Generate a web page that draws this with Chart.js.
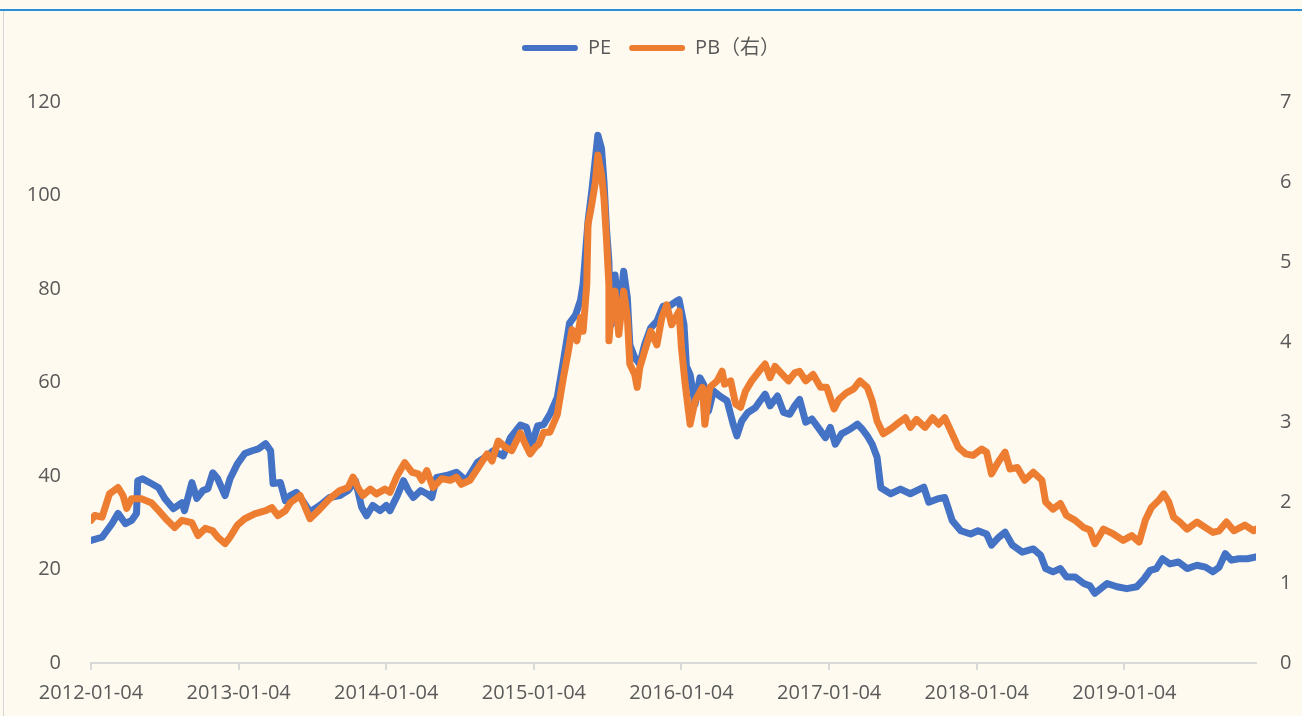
<!DOCTYPE html>
<html>
<head>
<meta charset="utf-8">
<script src="https://cdn.jsdelivr.net/npm/chart.js@4.4.1/dist/chart.umd.min.js"></script>
<style>
  html, body { margin: 0; padding: 0; background: #fffaf0; }
  #wrap { position: absolute; left: 0; top: 0; width: 1302px; height: 716px; }
  #topLine { position: absolute; left: 0; top: 9px; width: 1302px; height: 2px; background: #2a8fd6; }
  #leftLine { position: absolute; left: 3px; top: 11px; width: 1px; height: 705px; background: #d6d6d6; }
</style>
</head>
<body>
<div id="wrap"><canvas id="myChart"></canvas></div>
<div id="topLine"></div>
<div id="leftLine"></div>
<script>
// x positions: months since 2012-01-04
var peMonths = [0, 0.9, 1.7, 2.2, 2.8, 3.3, 3.7, 3.8, 4.2, 4.9, 5.5, 6.0, 6.7, 7.4, 7.6, 8.2, 8.6, 9.1, 9.5, 9.9,
  10.3, 10.9, 11.3, 11.9, 12.5, 13.1, 13.6, 14.2, 14.6, 14.8, 15.4, 15.8, 16.2, 16.7, 17.2, 17.8, 18.6, 19.4, 20.2, 20.9,
  21.5, 22.0, 22.4, 22.9, 23.5, 24.0, 24.3, 24.9, 25.4, 25.8, 26.2, 26.8, 27.3, 27.7, 28.1, 28.9, 29.7, 30.5, 31.4, 32.2,
  32.7, 33.5, 34.1, 34.9, 35.4, 35.8, 36.3, 36.8, 37.3, 37.9, 38.4, 38.9, 39.4, 39.8, 40.0, 40.4, 40.7, 41.0, 41.2, 41.5,
  41.7, 41.9, 42.1, 42.2, 42.3, 42.6, 42.9, 43.3, 43.6, 43.8, 44.2, 44.6, 45.0, 45.5, 46.0, 46.5, 47.1, 47.6, 47.8, 48.2,
  48.4, 48.7, 49.1, 49.5, 49.8, 50.2, 50.6, 51.1, 51.7, 52.2, 52.5, 52.9, 53.4, 54.0, 54.4, 54.8, 55.2, 55.8, 56.3, 56.8,
  57.2, 57.6, 58.1, 58.6, 59.1, 59.7, 60.1, 60.5, 61.0, 61.7, 62.3, 62.7, 63.1, 63.5, 63.9, 64.2, 65.0, 65.8, 66.6, 67.7,
  68.1, 68.8, 69.4, 70.0, 70.7, 71.5, 72.1, 72.8, 73.2, 73.8, 74.3, 74.9, 75.7, 76.6, 77.2, 77.6, 78.2, 78.8, 79.3, 80.0,
  80.7, 81.2, 81.6, 82.6, 83.4, 84.2, 85.0, 85.6, 86.1, 86.6, 87.1, 87.7, 88.4, 89.1, 89.9, 90.6, 91.2, 91.7, 92.2, 92.7,
  93.3, 94.0, 94.7];
var peValues = [26.2, 26.9, 29.8, 32.0, 29.8, 30.5, 32.0, 39.0, 39.4, 38.4, 37.5, 35.2, 33.0, 34.3, 32.6, 38.6, 35.2, 36.9, 37.3, 40.7,
  39.4, 35.8, 39.4, 42.6, 44.8, 45.4, 45.8, 46.9, 45.4, 38.4, 38.6, 34.7, 35.8, 36.5, 34.7, 32.3, 33.7, 35.4, 35.8, 36.9,
  39.0, 33.3, 31.5, 33.7, 32.6, 33.7, 32.6, 35.8, 39.0, 36.9, 35.4, 36.9, 36.2, 35.4, 39.7, 40.1, 40.8, 39.0, 42.9, 44.3,
  45.4, 44.3, 48.2, 50.9, 50.4, 46.5, 50.7, 51.0, 53.2, 56.8, 64.6, 72.7, 74.5, 77.7, 81.0, 94.4, 100.8, 107.9, 112.9, 110.0,
  102.9, 93.0, 85.9, 75.9, 72.4, 83.0, 73.8, 83.8, 78.1, 68.1, 65.3, 63.9, 68.1, 71.7, 73.1, 76.3, 76.5, 77.4, 77.7, 72.4,
  63.5, 61.7, 55.3, 61.0, 59.6, 53.9, 58.2, 57.1, 56.1, 51.1, 48.6, 51.8, 53.6, 54.6, 56.1, 57.5, 55.0, 57.1, 53.6, 53.2,
  55.0, 56.4, 51.5, 52.2, 50.4, 48.2, 50.4, 46.8, 49.0, 50.0, 51.1, 50.0, 48.6, 46.8, 44.0, 37.5, 36.2, 37.2, 36.2, 37.6,
  34.4, 35.1, 35.4, 30.5, 28.3, 27.6, 28.3, 27.6, 25.2, 26.9, 28.0, 25.2, 23.7, 24.4, 23.0, 20.2, 19.5, 20.2, 18.4, 18.4,
  17.0, 16.5, 14.9, 17.0, 16.3, 15.9, 16.3, 18.0, 19.8, 20.2, 22.3, 21.2, 21.6, 20.2, 20.9, 20.5, 19.5, 20.5, 23.4, 22.0,
  22.3, 22.3, 22.7];

var pbMonths = [0, 0.3, 0.9, 1.5, 2.2, 2.6, 2.9, 3.3, 4.1, 4.9, 5.5, 6.2, 6.8, 7.4, 8.2, 8.7, 9.3, 9.9, 10.3, 10.9,
  11.3, 11.9, 12.5, 13.3, 14.2, 14.7, 15.2, 15.8, 16.2, 17.0, 17.8, 18.6, 19.4, 20.2, 20.9, 21.3, 21.7, 22.1, 22.7, 23.2,
  23.9, 24.3, 24.9, 25.5, 26.1, 26.6, 26.9, 27.3, 27.8, 28.5, 29.2, 29.7, 30.1, 30.8, 31.4, 32.2, 32.6, 33.1, 33.7, 34.2,
  34.9, 35.3, 35.7, 36.1, 36.4, 36.8, 37.3, 37.9, 38.4, 38.8, 39.1, 39.5, 39.8, 40.0, 40.3, 40.4, 40.7, 41.0, 41.2, 41.5,
  41.7, 41.9, 42.1, 42.1, 42.3, 42.6, 42.9, 43.3, 43.6, 43.8, 44.2, 44.4, 44.6, 45.0, 45.5, 46.0, 46.4, 46.8, 47.2, 47.8,
  48.0, 48.3, 48.7, 49.1, 49.7, 49.9, 50.3, 50.9, 51.3, 51.5, 52.0, 52.4, 52.8, 53.2, 53.7, 54.3, 54.8, 55.2, 55.6, 56.2,
  56.7, 57.2, 57.6, 58.1, 58.7, 59.3, 59.8, 60.4, 60.8, 61.4, 62.0, 62.5, 63.1, 63.5, 63.9, 64.4, 65.0, 65.5, 66.2, 66.6,
  67.1, 67.8, 68.4, 68.9, 69.4, 70.0, 70.5, 71.1, 71.7, 72.4, 72.8, 73.2, 73.8, 74.3, 74.7, 75.3, 75.9, 76.6, 77.3, 77.6,
  78.2, 78.8, 79.3, 80.0, 80.7, 81.2, 81.6, 82.3, 83.1, 83.9, 84.6, 85.2, 85.7, 86.2, 86.8, 87.2, 87.6, 88.0, 88.5, 89.1,
  89.9, 90.6, 91.2, 91.7, 92.3, 92.9, 93.8, 94.5, 94.7];
var pbValues = [1.78, 1.84, 1.82, 2.11, 2.19, 2.09, 1.93, 2.05, 2.05, 2.00, 1.90, 1.78, 1.69, 1.78, 1.75, 1.59, 1.68, 1.65, 1.57, 1.49,
  1.57, 1.72, 1.80, 1.86, 1.90, 1.94, 1.84, 1.90, 2.00, 2.09, 1.80, 1.92, 2.05, 2.15, 2.19, 2.32, 2.19, 2.09, 2.17, 2.11,
  2.17, 2.13, 2.34, 2.50, 2.38, 2.36, 2.28, 2.40, 2.19, 2.30, 2.28, 2.32, 2.23, 2.28, 2.42, 2.61, 2.52, 2.77, 2.69, 2.65,
  2.87, 2.73, 2.61, 2.69, 2.73, 2.88, 2.88, 3.10, 3.56, 3.89, 4.16, 4.02, 4.31, 4.14, 4.72, 5.47, 5.72, 6.00, 6.34, 6.09,
  5.80, 5.30, 4.72, 4.02, 4.39, 4.64, 4.10, 4.64, 4.31, 3.73, 3.60, 3.44, 3.68, 3.89, 4.14, 3.97, 4.31, 4.47, 4.22, 4.39,
  3.93, 3.48, 2.98, 3.27, 3.44, 2.98, 3.44, 3.52, 3.64, 3.48, 3.52, 3.23, 3.19, 3.39, 3.52, 3.64, 3.73, 3.56, 3.70, 3.60,
  3.52, 3.62, 3.64, 3.52, 3.60, 3.44, 3.44, 3.17, 3.29, 3.37, 3.42, 3.52, 3.44, 3.27, 3.02, 2.86, 2.92, 2.98, 3.06, 2.94,
  3.04, 2.94, 3.06, 2.98, 3.06, 2.86, 2.69, 2.61, 2.59, 2.67, 2.63, 2.36, 2.52, 2.63, 2.42, 2.44, 2.28, 2.38, 2.28, 2.01,
  1.92, 1.99, 1.84, 1.78, 1.69, 1.66, 1.49, 1.67, 1.61, 1.53, 1.59, 1.51, 1.78, 1.94, 2.03, 2.11, 2.01, 1.82, 1.76, 1.67,
  1.76, 1.69, 1.63, 1.65, 1.76, 1.65, 1.72, 1.65, 1.67];

var tickMonths = [0, 12, 24, 36, 48, 60, 72, 84];
var tickLabels = ['2012-01-04', '2013-01-04', '2014-01-04', '2015-01-04', '2016-01-04', '2017-01-04', '2018-01-04', '2019-01-04'];
var seriesNames = ['PE', 'PB（右）'];

function toPoints(xs, ys) {
  return xs.map(function (x, i) { return { x: x, y: ys[i] }; });
}

var font = { family: "'Open Sans', 'Noto Sans CJK SC', sans-serif", size: 20 };
var grey = '#595959';

// push the plot area down below the legend
var legendGap = {
  id: 'legendGap',
  beforeInit: function (chart) {
    var fit = chart.legend.fit;
    chart.legend.fit = function () {
      fit.bind(chart.legend)();
      this.height += 34;
    };
  }
};

const ctx = document.getElementById('myChart');
const myChart = new Chart(ctx, {
  type: 'line',
  data: {
    datasets: [{
      label: seriesNames[0],
      data: toPoints(peMonths, peValues),
      borderColor: '#4472c4',
      backgroundColor: '#4472c4',
      borderWidth: 7,
      yAxisID: 'y',
      order: 1
    }, {
      label: seriesNames[1],
      data: toPoints(pbMonths, pbValues),
      borderColor: '#ed7d31',
      backgroundColor: '#ed7d31',
      borderWidth: 7,
      yAxisID: 'y1',
      order: 0
    }]
  },
  options: {
    responsive: true,
    maintainAspectRatio: false,
    animation: false,
    elements: {
      point: { radius: 0 },
      line: { tension: 0, borderJoinStyle: 'round', borderCapStyle: 'round' }
    },
    layout: { padding: { top: 20, left: 0, right: 0, bottom: 0 } },
    plugins: {
      tooltip: { enabled: false },
      legend: {
        position: 'top',
        labels: {
          font: font,
          color: grey,
          boxWidth: 56,
          boxHeight: 6,
          padding: 18,
          useBorderRadius: true,
          borderRadius: 3,
          sort: function (a, b) { return a.datasetIndex - b.datasetIndex; },
          generateLabels: function (chart) {
            var items = Chart.defaults.plugins.legend.labels.generateLabels(chart);
            items.forEach(function (it) { it.lineWidth = 0; });
            return items;
          }
        }
      }
    },
    scales: {
      x: {
        type: 'linear',
        min: 0,
        max: 94.7,
        afterBuildTicks: function (scale) {
          scale.ticks = tickMonths.map(function (v) { return { value: v }; });
        },
        afterFit: function (scale) {
          scale.paddingLeft = 0;
          scale.paddingRight = 0;
        },
        ticks: {
          font: font,
          color: grey,
          padding: 11,
          maxRotation: 0,
          autoSkip: false,
          callback: function (v) {
            var i = tickMonths.indexOf(v);
            return i >= 0 ? tickLabels[i] : '';
          }
        },
        grid: { drawOnChartArea: false, color: '#d9d9d9', tickLength: 7, lineWidth: 2 },
        border: { color: '#d9d9d9', width: 2 }
      },
      y: {
        position: 'left',
        min: 0,
        max: 120,
        afterFit: function (scale) { scale.width = 91; },
        ticks: { stepSize: 20, font: font, color: grey, padding: 22 },
        grid: { display: false },
        border: { display: false }
      },
      y1: {
        position: 'right',
        min: 0,
        max: 7,
        afterFit: function (scale) { scale.width = 46; },
        ticks: { stepSize: 1, font: font, color: grey, padding: 16 },
        grid: { display: false },
        border: { display: false }
      }
    }
  },
  plugins: [legendGap]
});
</script>
</body>
</html>
